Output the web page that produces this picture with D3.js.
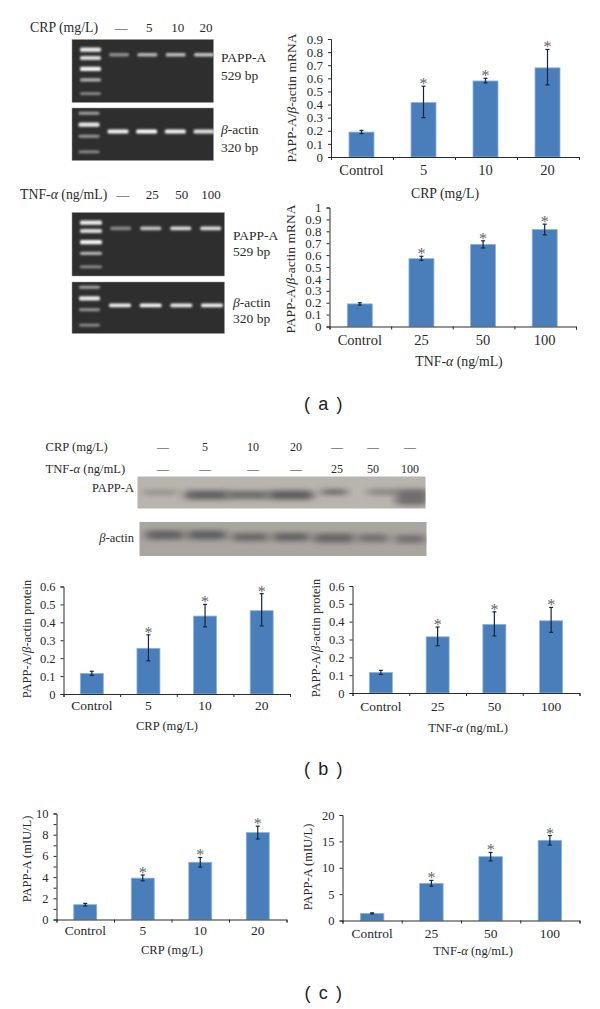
<!DOCTYPE html>
<html>
<head>
<meta charset="utf-8">
<script src="https://cdn.jsdelivr.net/npm/d3@7"></script>
<style>
    html, body { margin: 0; background: #fff; }
    svg { display: block; }
    text { font-family: "Liberation Serif", serif; fill: #2a2a2a; }
    .caption { font-family: "Liberation Sans", sans-serif; font-size: 18px; letter-spacing: 1.6px; fill: #222; }
</style>
</head>
<body>
<svg id="fig" width="600" height="1009"></svg>
<script>
var crpGroups = ['Control', '5', '10', '20'],
    tnfGroups = ['Control', '25', '50', '100'];

// mRNA, panel a
var crpMrna = [0.19, 0.415, 0.58, 0.68],
    crpMrnaLow = [0.178, 0.30, 0.565, 0.55],
    crpMrnaHigh = [0.203, 0.54, 0.60, 0.82],
    tnfMrna = [0.19, 0.57, 0.69, 0.815],
    tnfMrnaLow = [0.18, 0.555, 0.66, 0.77],
    tnfMrnaHigh = [0.20, 0.59, 0.72, 0.86];

// protein, panel b
var crpProtein = [0.115, 0.255, 0.435, 0.465],
    crpProteinLow = [0.104, 0.185, 0.375, 0.38],
    crpProteinHigh = [0.127, 0.33, 0.50, 0.56],
    tnfProtein = [0.115, 0.315, 0.385, 0.405],
    tnfProteinLow = [0.104, 0.265, 0.32, 0.34],
    tnfProteinHigh = [0.127, 0.37, 0.455, 0.48];

// secreted, panel c
var crpSecreted = [1.4, 3.9, 5.4, 8.2],
    crpSecretedLow = [1.28, 3.65, 4.95, 7.6],
    crpSecretedHigh = [1.52, 4.2, 5.85, 8.8],
    tnfSecreted = [1.35, 7.05, 12.1, 15.2],
    tnfSecretedLow = [1.25, 6.5, 11.3, 14.3],
    tnfSecretedHigh = [1.45, 7.6, 12.9, 16.1];

var ticks09 = d3.range(0, 10).map(function(d) { return d / 10; }),
    ticks10 = d3.range(0, 11).map(function(d) { return d / 10; }),
    ticks06 = d3.range(0, 7).map(function(d) { return d / 10; });

// gel band strength, 0 to 1
var gelCrpPapp = [0.4, 0.62, 0.66, 0.7],
    gelCrpActin = [0.95, 1, 0.95, 0.85],
    gelTnfPapp = [0.35, 0.68, 0.8, 0.82],
    gelTnfActin = [0.92, 0.95, 0.88, 0.92];

// marker ladder: place down the gel (0 to 1) and strength
var ladderPappPlace = [0.15, 0.285, 0.455, 0.64, 0.86],
    ladderPappPower = [0.9, 0.82, 0.95, 0.6, 0.4],
    ladderActinPlace = [0.1, 0.305, 0.54, 0.84],
    ladderActinPower = [0.5, 0.9, 0.45, 0.4];

var westernLanesCrp = ['—', '5', '10', '20', '—', '—', '—'],
    westernLanesTnf = ['—', '—', '—', '—', '25', '50', '100'],
    westernPapp = [0.22, 0.72, 0.62, 0.78, 0.72, 0.42, 0.58],
    westernActin = [0.72, 0.74, 0.66, 0.72, 0.68, 0.56, 0.56];

var svg = d3.select('#fig'),
    defs = svg.append('defs');

var addBlur = function(id, dev)
{
    defs.append('filter').attr('id', id)
        .attr('x', '-20%').attr('y', '-150%').attr('width', '140%').attr('height', '400%')
        .append('feGaussianBlur').attr('stdDeviation', dev);
};
addBlur('blurGel', '1.2 0.8');
addBlur('blurBlot', '5 2.6');

// text with the greek letters in italics
var richText = function(sel, str)
{
    str.split(/([βα])/).forEach(function(part)
    {
        if (part) {
            sel.append('tspan').text(part)
                .style('font-style', /[βα]/.test(part) ? 'italic' : null);
        }
    });
    return sel;
};

var label = function(x, y, str, size, anchor)
{
    var t = svg.append('text').attr('x', x).attr('y', y)
        .attr('font-size', size).attr('text-anchor', anchor || 'start');
    return richText(t, str);
};

var barPanel = function(o)
{
    var g = svg.append('g'),
        x = d3.scaleBand().domain(o.groups).range([o.x0, o.x1]),
        edge = d3.scaleLinear().domain([0, 4]).range([o.x0, o.x1]),
        y = d3.scaleLinear().domain([0, o.top]).range([o.y0, o.y1]),
        rows = o.groups.map(function(d, i)
        {
            return { key : d, v : o.values[i], lo : o.low[i], hi : o.high[i] };
        }),
        cx = function(d) { return x(d.key) + x.bandwidth() / 2 + o.shift; };

    g.selectAll('rect.bar').data(rows).enter().append('rect')
        .attr('class', 'bar')
        .attr('x', function(d) { return cx(d) - o.barW / 2; })
        .attr('y', function(d) { return y(d.v); })
        .attr('width', o.barW)
        .attr('height', function(d) { return y(0) - y(d.v); })
        .attr('fill', '#4a7ebb')
        .attr('stroke', '#8fb3dc')
        .attr('stroke-width', 0.8);

    var err = g.selectAll('g.err').data(rows).enter().append('g').attr('class', 'err');
    err.append('line')
        .attr('x1', cx).attr('x2', cx)
        .attr('y1', function(d) { return y(d.lo); })
        .attr('y2', function(d) { return y(d.hi); });
    err.append('line')
        .attr('x1', function(d) { return cx(d) - 2; }).attr('x2', function(d) { return cx(d) + 2; })
        .attr('y1', function(d) { return y(d.lo); }).attr('y2', function(d) { return y(d.lo); });
    err.append('line')
        .attr('x1', function(d) { return cx(d) - 2; }).attr('x2', function(d) { return cx(d) + 2; })
        .attr('y1', function(d) { return y(d.hi); }).attr('y2', function(d) { return y(d.hi); });
    err.selectAll('line').attr('stroke', '#14263c').attr('stroke-width', 1.2);

    // no star on the control bar
    g.selectAll('text.star').data(rows.slice(1)).enter().append('text')
        .attr('class', 'star')
        .attr('x', cx)
        .attr('y', function(d) { return y(d.hi) + 3; })
        .attr('text-anchor', 'middle')
        .attr('font-size', 16)
        .style('fill', '#666')
        .text('*');

    var yAxis = g.append('g').attr('transform', 'translate(' + o.x0 + ',0)')
        .call(d3.axisLeft(y).tickValues(o.ticks).tickSize(3).tickPadding(o.yPad)
            .tickFormat(o.fmt));
    yAxis.selectAll('text').attr('font-size', o.yFont).style('font-family', '"Liberation Serif", serif');

    if (o.minor) {
        g.append('g').attr('transform', 'translate(' + o.x0 + ',0)')
            .call(d3.axisLeft(y).tickValues(o.minor).tickSize(3).tickFormat(''))
            .select('.domain').remove();
    }

    g.append('g').attr('transform', 'translate(0,' + o.y0 + ')')
        .call(d3.axisBottom(edge).tickValues([0, 1, 2, 3, 4]).tickSize(3).tickFormat(''));

    var xLabels = g.append('g').attr('transform', 'translate(' + o.shift + ',' + o.y0 + ')')
        .call(d3.axisBottom(x).tickSize(0).tickPadding(o.xPad));
    xLabels.select('.domain').remove();
    xLabels.selectAll('text').attr('font-size', o.xFont).style('font-family', '"Liberation Serif", serif');

    g.selectAll('.domain, .tick line').attr('stroke', '#2b2b2b').attr('stroke-width', 1);
    g.selectAll('.tick text').attr('fill', '#2a2a2a');

    label(o.titleX, o.titleY, o.title, o.titleFont, 'middle');

    richText(svg.append('text')
        .attr('transform', 'translate(' + o.labelX + ',' + o.labelY + ') rotate(-90)')
        .attr('text-anchor', 'middle')
        .attr('font-size', o.labelFont), o.yLabel);
};

var gel = function(o)
{
    var g = svg.append('g'),
        lane = d3.scalePoint().domain(d3.range(o.bands.length)).range(o.laneRange),
        y = d3.scaleLinear().domain([0, 1]).range([o.y0, o.y1]),
        glow = d3.scaleLinear().domain([0, 1]).range(['#444444', '#ffffff']);

    g.append('rect').attr('x', o.x0).attr('y', o.y0)
        .attr('width', o.x1 - o.x0).attr('height', o.y1 - o.y0)
        .attr('fill', '#2e2e2e').attr('stroke', '#9a9a9a').attr('stroke-width', 0.5);

    g.selectAll('rect.ladder').data(o.ladderPlace).enter().append('rect')
        .attr('class', 'ladder')
        .attr('x', o.ladderX).attr('width', o.ladderW)
        .attr('y', function(d) { return y(d) - 1.5; })
        .attr('height', function(d, i) { return 1.5 + 3 * o.ladderPower[i]; })
        .attr('rx', 1.5)
        .attr('fill', function(d, i) { return glow(o.ladderPower[i]); })
        .attr('filter', 'url(#blurGel)');

    g.selectAll('rect.band').data(o.bands).enter().append('rect')
        .attr('class', 'band')
        .attr('x', function(d, i) { return lane(i) - o.bandW / 2; })
        .attr('width', o.bandW)
        .attr('y', o.bandY - o.bandH / 2)
        .attr('height', o.bandH)
        .attr('rx', 1.5)
        .attr('fill', function(d) { return glow(d); })
        .attr('filter', 'url(#blurGel)');
};

var blot = function(o)
{
    var g = svg.append('g'),
        shade = d3.scaleLinear().domain([0, 1]).range(['#a8a49e', '#46464a']);

    g.append('rect').attr('x', o.x0).attr('y', o.y0)
        .attr('width', o.x1 - o.x0).attr('height', o.y1 - o.y0)
        .attr('fill', o.paper);

    // clip so the soft bands stay inside the film
    var clipId = 'clip' + o.y0;
    defs.append('clipPath').attr('id', clipId).append('rect')
        .attr('x', o.x0).attr('y', o.y0).attr('width', o.x1 - o.x0).attr('height', o.y1 - o.y0);

    g.append('g').attr('clip-path', 'url(#' + clipId + ')')
        .selectAll('rect').data(o.bands).enter().append('rect')
        .attr('x', function(d, i) { return o.laneX[i] - o.laneW[i] / 2; })
        .attr('width', function(d, i) { return o.laneW[i]; })
        .attr('y', function(d, i) { return o.laneY[i] - o.laneH[i] / 2; })
        .attr('height', function(d, i) { return o.laneH[i]; })
        .attr('rx', 3)
        .attr('fill', function(d) { return shade(d); })
        .attr('filter', 'url(#blurBlot)');
};

// ---- panel a, gels
label(30, 32, 'CRP (mg/L)', 13.8);
var crpHeadX = d3.scalePoint().domain(['—', '5', '10', '20']).range([121, 206]);
crpHeadX.domain().forEach(function(d) { label(crpHeadX(d), 32, d, 13, 'middle'); });

gel({ x0 : 72, x1 : 213.5, y0 : 39.5, y1 : 102.5, ladderX : 80, ladderW : 21,
    ladderPlace : ladderPappPlace, ladderPower : ladderPappPower,
    bands : gelCrpPapp, laneRange : [119, 204], bandW : 20, bandH : 3.6, bandY : 54.7 });
gel({ x0 : 72, x1 : 213.5, y0 : 108, y1 : 160.5, ladderX : 78.5, ladderW : 21,
    ladderPlace : ladderActinPlace, ladderPower : ladderActinPower,
    bands : gelCrpActin, laneRange : [118, 204], bandW : 21, bandH : 4, bandY : 131.5 });

label(221, 62, 'PAPP-A', 13.5);
label(221, 80, '529 bp', 13.5);
label(221, 134, 'β-actin', 13.5);
label(221, 152, '320 bp', 13.5);

label(20, 199, 'TNF-α (ng/mL)', 13.8);
var tnfHeadX = d3.scalePoint().domain(['—', '25', '50', '100']).range([123, 211]);
tnfHeadX.domain().forEach(function(d) { label(tnfHeadX(d), 199, d, 13, 'middle'); });

gel({ x0 : 72, x1 : 224.5, y0 : 212.5, y1 : 276, ladderX : 80, ladderW : 22,
    ladderPlace : ladderPappPlace, ladderPower : ladderPappPower,
    bands : gelTnfPapp, laneRange : [120.7, 210.7], bandW : 21, bandH : 3.8, bandY : 228.3 });
gel({ x0 : 72, x1 : 224.5, y0 : 282, y1 : 333.5, ladderX : 79, ladderW : 21,
    ladderPlace : ladderActinPlace, ladderPower : ladderActinPower,
    bands : gelTnfActin, laneRange : [120, 212], bandW : 22, bandH : 3.8, bandY : 305.3 });

label(233, 240, 'PAPP-A', 13.5);
label(233, 256, '529 bp', 13.5);
label(233, 307, 'β-actin', 13.5);
label(233, 323, '320 bp', 13.5);

// ---- panel b, blot
var westX = [163, 205, 253, 296, 337, 373, 410];
label(45.5, 451, 'CRP (mg/L)', 12.6);
label(45.5, 473, 'TNF-α (ng/mL)', 12.6);
westernLanesCrp.forEach(function(d, i) { label(westX[i], 451, d, 12, 'middle'); });
westernLanesTnf.forEach(function(d, i) { label(westX[i], 473, d, 12, 'middle'); });
label(134, 492, 'PAPP-A', 12.5, 'end');
label(134, 542, 'β-actin', 12.5, 'end');

blot({ x0 : 137.5, x1 : 425.5, y0 : 476.5, y1 : 508.5, paper : '#b8b4ae',
    bands : westernPapp,
    laneX : [160, 207, 248, 291, 334, 383, 412],
    laneY : [492.5, 495, 495, 495, 492, 492, 497],
    laneW : [34, 44, 42, 44, 26, 30, 32],
    laneH : [5, 9, 8, 9, 5, 5, 16] });
blot({ x0 : 139.5, x1 : 426.5, y0 : 522, y1 : 556, paper : '#a9a59f',
    bands : westernActin,
    laneX : [165, 207, 250, 291, 334, 373, 410],
    laneY : [535, 535, 537, 537, 538, 538, 539],
    laneW : [38, 38, 36, 36, 40, 30, 30],
    laneH : [9, 9, 8, 8, 9, 8, 8] });

// ---- bar charts
var fmtDec = function(d) { return d === 0 ? '0' : d3.format('.1f')(d); },
    fmtOne = function(d) { return d === 1 ? '1' : fmtDec(d); };

barPanel({ groups : crpGroups, values : crpMrna, low : crpMrnaLow, high : crpMrnaHigh,
    top : 0.9, ticks : ticks09, fmt : fmtDec,
    x0 : 331, x1 : 579, y0 : 157, y1 : 39, barW : 25, shift : -0.5,
    yFont : 13, yPad : 5, xFont : 14.5, xPad : 8,
    yLabel : 'PAPP-A/β-actin mRNA', labelX : 296, labelY : 98, labelFont : 13.5,
    title : 'CRP (mg/L)', titleX : 445, titleY : 198, titleFont : 13.8 });

barPanel({ groups : tnfGroups, values : tnfMrna, low : tnfMrnaLow, high : tnfMrnaHigh,
    top : 1, ticks : ticks10, fmt : fmtOne,
    x0 : 329.5, x1 : 576, y0 : 326.5, y1 : 207.5, barW : 25, shift : -0.5,
    yFont : 13, yPad : 5, xFont : 14.5, xPad : 8,
    yLabel : 'PAPP-A/β-actin mRNA', labelX : 295, labelY : 269, labelFont : 13.5,
    title : 'TNF-α (ng/mL)', titleX : 459, titleY : 366, titleFont : 13.8 });

barPanel({ groups : crpGroups, values : crpProtein, low : crpProteinLow, high : crpProteinHigh,
    top : 0.6, ticks : ticks06, fmt : fmtDec,
    x0 : 63.5, x1 : 290, y0 : 694, y1 : 586.5, barW : 23, shift : 0,
    yFont : 12.5, yPad : 5, xFont : 13.5, xPad : 6,
    yLabel : 'PAPP-A/β-actin protein', labelX : 31, labelY : 639, labelFont : 12.5,
    title : 'CRP (mg/L)', titleX : 167, titleY : 730, titleFont : 12.6 });

barPanel({ groups : tnfGroups, values : tnfProtein, low : tnfProteinLow, high : tnfProteinHigh,
    top : 0.6, ticks : ticks06, fmt : fmtDec,
    x0 : 352.5, x1 : 579.5, y0 : 693, y1 : 586, barW : 23, shift : 0,
    yFont : 12.5, yPad : 5, xFont : 13.5, xPad : 8,
    yLabel : 'PAPP-A/β-actin protein', labelX : 320, labelY : 638, labelFont : 12.5,
    title : 'TNF-α (ng/mL)', titleX : 468, titleY : 732, titleFont : 12.6 });

barPanel({ groups : crpGroups, values : crpSecreted, low : crpSecretedLow, high : crpSecretedHigh,
    top : 10, ticks : [0, 2, 4, 6, 8, 10], minor : [1, 3, 5, 7, 9], fmt : d3.format('d'),
    x0 : 56.5, x1 : 286.5, y0 : 919.5, y1 : 813.5, barW : 23, shift : 0,
    yFont : 12.5, yPad : 5, xFont : 13.5, xPad : 6,
    yLabel : 'PAPP-A (mIU/L)', labelX : 31, labelY : 859, labelFont : 12.5,
    title : 'CRP (mg/L)', titleX : 172, titleY : 954, titleFont : 12.6 });

barPanel({ groups : tnfGroups, values : tnfSecreted, low : tnfSecretedLow, high : tnfSecretedHigh,
    top : 20, ticks : [0, 5, 10, 15, 20], fmt : d3.format('d'),
    x0 : 342.5, x1 : 579.5, y0 : 920.5, y1 : 815, barW : 23.5, shift : 0,
    yFont : 12.5, yPad : 5, xFont : 13.5, xPad : 8,
    yLabel : 'PAPP-A (mIU/L)', labelX : 312, labelY : 867, labelFont : 12.5,
    title : 'TNF-α (ng/mL)', titleX : 473, titleY : 955, titleFont : 12.6 });

// ---- panel captions
svg.append('text').attr('class', 'caption').attr('x', 324).attr('y', 410)
    .attr('text-anchor', 'middle').text('( a )');
svg.append('text').attr('class', 'caption').attr('x', 324).attr('y', 775)
    .attr('text-anchor', 'middle').text('( b )');
svg.append('text').attr('class', 'caption').attr('x', 324).attr('y', 999)
    .attr('text-anchor', 'middle').text('( c )');
</script>
</body>
</html>
